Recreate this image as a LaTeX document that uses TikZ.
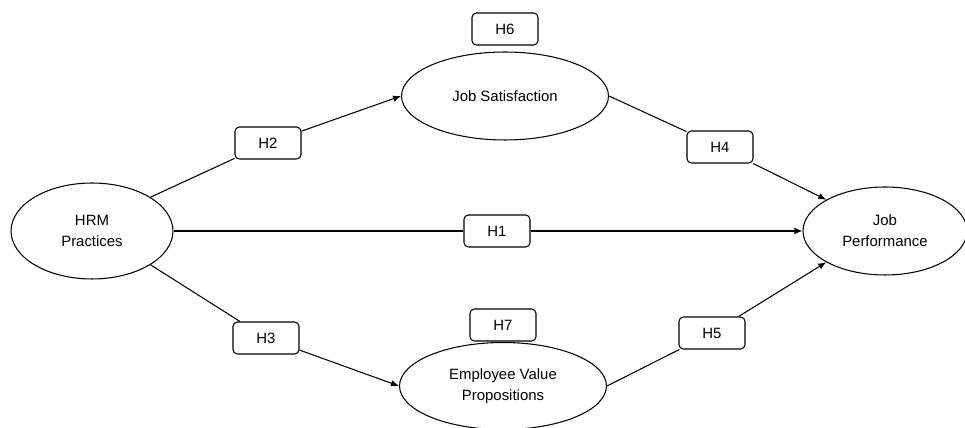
\documentclass[tikz,border=0pt]{standalone}
\usepackage{fontspec}
\setmainfont{Liberation Sans}
\usetikzlibrary{shapes.geometric,arrows.meta}

\begin{document}
\begin{tikzpicture}[x=0.02cm,y=-0.02cm,line width=0.6pt]
        \tikzstyle{every node}=[font=\fontsize{8.5}{12}\selectfont]
        \tikzstyle{construct}=[draw,ellipse,inner sep=0pt,align=center]
        \tikzstyle{hyp}=[draw,fill=white,rounded corners=2.5pt,minimum width=1.32cm,minimum height=0.64cm,inner sep=0pt]
        \tikzstyle{link}=[-{Latex[length=1.6mm,width=1.3mm]}]
        \useasboundingbox (0,0) rectangle (965,428);
        \node[construct,minimum width=3.24cm,minimum height=1.92cm] (hrm) at (92,231) {HRM\\Practices};
        \node[construct,minimum width=4.14cm,minimum height=1.76cm] (js) at (505,96) {Job Satisfaction};
        \node[construct,minimum width=3.28cm,minimum height=1.76cm] (jp) at (885,231) {Job\\Performance};
        \node[construct,minimum width=4.14cm,minimum height=1.74cm] (evp) at (503,386) {Employee Value\\Propositions};
        \node[hyp] (h1) at (497,231) {H1};
        \node[hyp] (h2) at (268,143) {H2};
        \node[hyp] (h3) at (266,338) {H3};
        \node[hyp] (h4) at (720,147) {H4};
        \node[hyp] (h5) at (712,333) {H5};
        \node[hyp] (h6) at (505,29) {H6};
        \node[hyp] (h7) at (503,325) {H7};
        \draw (hrm.east) -- (h1); \draw[link] (h1) -- (jp.west);
        \draw (hrm.30) -- (h2); \draw[link] (h2) -- (js.west);
        \draw (hrm.-30) -- (h3); \draw[link] (h3) -- (evp.west);
        \draw (js.east) -- (h4); \draw[link] (h4) -- (jp.152);
        \draw (evp.east) -- (h5); \draw[link] (h5) -- (jp.208);
\end{tikzpicture}
\end{document}
